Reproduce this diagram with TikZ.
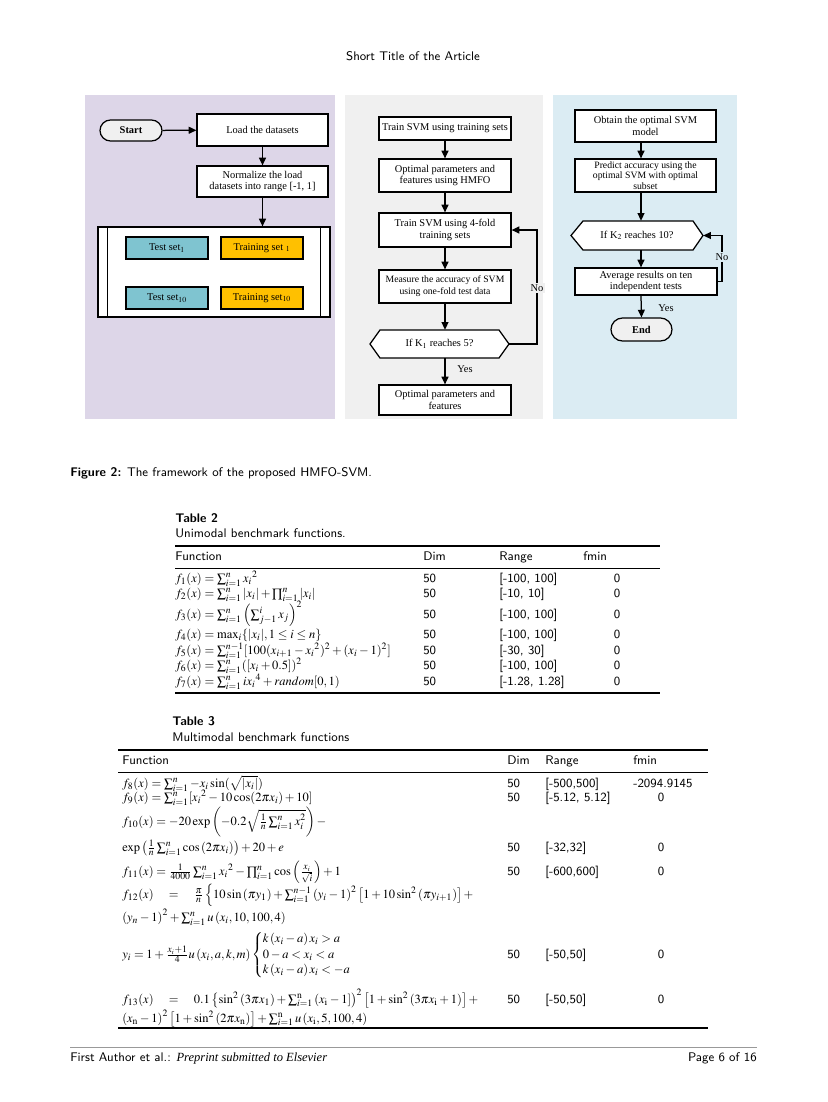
\documentclass[tikz,border=0pt]{standalone}
\usepackage{mathptmx}
\usepackage{fontspec}
\setmainfont{Liberation Serif}
\usetikzlibrary{arrows.meta}
\newcommand{\pxu}{0.72pt}
\newcommand{\fcfont}{\fontsize{7.5}{8.5}\selectfont\rmfamily}
\newcommand{\tbfont}{\fontsize{9}{11}\selectfont\sffamily}
\definecolor{pone}{RGB}{221,214,232}
\definecolor{ptwo}{RGB}{240,240,240}
\definecolor{pthree}{RGB}{219,236,243}
\definecolor{tcol}{RGB}{127,196,208}
\definecolor{rcol}{RGB}{255,192,0}
\definecolor{pillc}{RGB}{240,240,240}
\begin{document}
\begin{tikzpicture}[x=0.72pt,y=-0.72pt,
  fcbox/.style n args={2}{draw, line width=0.9pt, fill=white, inner sep=1pt, align=center, font=\fcfont, minimum width=#1*\pxu, minimum height=#2*\pxu},
  pill/.style n args={2}{draw, line width=0.9pt, fill=pillc, inner sep=1pt, font=\fcfont\bfseries, minimum width=#1*\pxu, minimum height=#2*\pxu, rounded corners=#2*0.36pt},
  hexn/.style n args={2}{inner sep=0pt, font=\fcfont, minimum width=#1*\pxu, minimum height=#2*\pxu},
  lbl/.style={inner sep=1pt, font=\fcfont},
  arr/.style={-{Triangle[length=5.5pt,width=5pt]}, line width=0.9pt},
  tc/.style={anchor=mid west, inner sep=0pt, font=\tbfont},
  tcc/.style={anchor=mid, inner sep=0pt, font=\tbfont},
  thickrule/.style={line width=0.9pt},
  thinrule/.style={line width=0.5pt}]
\useasboundingbox (0,0) rectangle (827,1102);
\fill[white] (0,0) rectangle (827,1102);

% header
\node[tcc] (hdr) at (413,57) {Short Title of the Article};

% panels
\fill[pone] (85,95) rectangle (335,419);
\fill[ptwo] (345,95) rectangle (543,419);
\fill[pthree] (553,95) rectangle (737,419);

% ---------- panel 1
\node[pill={62}{21}] (start) at (131,130.5) {Start};
\node[fcbox={131}{32}] (load) at (262.5,130) {Load the datasets};
\node[fcbox={131}{31}] (norm) at (262.5,181.5) {Normalize the load\\datasets into range [-1, 1]};
\node[draw, line width=0.9pt, fill=white, inner sep=0pt, minimum width=232*\pxu, minimum height=90*\pxu] (cont) at (214,272) {};
\draw[line width=0.9pt] ([xshift=10*\pxu]cont.north west) -- ([xshift=10*\pxu]cont.south west);
\draw[line width=0.9pt] ([xshift=-10*\pxu]cont.north east) -- ([xshift=-10*\pxu]cont.south east);
\node[fcbox={82}{22}, fill=tcol] (ts1) at (167,248) {Test set$_{1}$};
\node[fcbox={82}{22}, fill=rcol] (tr1) at (262,248) {Training set $_{1}$};
\node[fcbox={82}{22}, fill=tcol] (ts10) at (167,298) {Test set$_{10}$};
\node[fcbox={82}{22}, fill=rcol] (tr10) at (262,298) {Training set$_{10}$};
\draw[arr] (start) -- (load);
\draw[arr] (load) -- (norm);
\draw[arr] (norm.south) -- (norm.south |- cont.north);

% ---------- panel 2
\node[fcbox={132}{23}] (svm1) at (445,128.5) {Train SVM using training sets};
\node[fcbox={132}{33}] (hmfo) at (445,175.5) {Optimal parameters and\\features using HMFO};
\node[fcbox={132}{34}] (four) at (445,230) {Train SVM using 4-fold\\training sets};
\node[fcbox={132}{33}, font=\fontsize{7}{8.5}\selectfont\rmfamily] (meas) at (445,286.5) {Measure the accuracy of SVM\\using one-fold test data};
\draw[line width=0.9pt, fill=white] (370,344) -- (380,330) -- (499,330) -- (509,344) -- (499,358) -- (380,358) -- cycle;
\node[hexn={139}{28}] (kone) at (439.5,344) {If K$_{1}$ reaches 5?};
\node[fcbox={132}{30}] (optf) at (445,400) {Optimal parameters and\\features};
\draw[arr] (svm1) -- (hmfo);
\draw[arr] (hmfo) -- (four);
\draw[arr] (four) -- (meas);
\draw[arr] (meas.south) -- (meas.south |- kone.north);
\draw[arr] (optf.north |- kone.south) -- (optf.north);
\coordinate (nob) at (537,344);
\draw[arr] (kone.east) -- (nob) |- (four.east);
\node[lbl, fill=ptwo] (no1) at (537,288) {No};
\node[lbl] (yes1) at (465,369) {Yes};

% ---------- panel 3
\coordinate (ax3) at (641,0);
\node[fcbox={141}{32}] (obt) at (645.5,126) {Obtain the optimal SVM\\model};
\node[fcbox={141}{33}, font=\fontsize{7}{7.6}\selectfont\rmfamily] (pred) at (645.5,175.5) {Predict accuracy using the\\optimal SVM with optimal\\subset};
\draw[line width=0.9pt, fill=white] (571,235.5) -- (583,221) -- (693,221) -- (703,235.5) -- (693,250) -- (583,250) -- cycle;
\node[hexn={132}{29}] (ktwo) at (637,235.5) {If K$_{2}$ reaches 10?};
\node[fcbox={142}{27}] (avg) at (646,281.5) {Average results on ten\\independent tests};
\node[pill={61}{23}] (fin) at (641.5,329.5) {End};
\draw[arr] (obt.south -| ax3) -- (pred.north -| ax3);
\draw[arr] (pred.south -| ax3) -- (ktwo.north -| ax3);
\draw[arr] (ktwo.south -| ax3) -- (avg.north -| ax3);
\draw[arr] (avg.south -| ax3) -- (fin.north);
\coordinate (no3) at (722,281.5);
\draw[arr] (avg.east) -- (no3) |- (ktwo.east);
\node[lbl, fill=pthree] (no2) at (722,257) {No};
\node[lbl] (yes2) at (666,308) {Yes};

% caption
\node[tc] (cap) at (70,473) {\textbf{Figure 2:} The framework of the proposed HMFO-SVM.};

% ---------- Table 2
\node[tc, font=\tbfont\bfseries] (t2t) at (175,519) {Table 2};
\node[tc] (t2c) at (175,534) {Unimodal benchmark functions.};
\draw[thickrule] (175,546) -- (660,546);
\node[tc] (h2a) at (175,557) {Function};
\node[tc] (h2b) at (423,557) {Dim};
\node[tc] (h2c) at (499,557) {Range};
\node[tc] (h2d) at (583,557) {fmin};
\draw[thinrule] (175,568) -- (660,568);
\node[tc] (a1) at (175,579) {$f_1(x)=\sum_{i=1}^{n}{x_i}^2$};
\node[tc] (a2) at (175,594) {$f_2(x)=\sum_{i=1}^{n}|x_i|+\prod_{i=1}^{n}|x_i|$};
\node[tc] (a3) at (175,615) {$f_3(x)=\sum_{i=1}^{n}\left(\sum_{j-1}^{i}x_j\right)^2$};
\node[tc] (a4) at (175,635) {$f_4(x)=\max_i\{|x_i|,1\le i\le n\}$};
\node[tc] (a5) at (175,651) {$f_5(x)=\sum_{i=1}^{n-1}[100(x_{i+1}-{x_i}^2)^2+(x_i-1)^2]$};
\node[tc] (a6) at (175,666) {$f_6(x)=\sum_{i=1}^{n}([x_i+0.5])^2$};
\node[tc] (a7) at (175,682) {$f_7(x)=\sum_{i=1}^{n}i{x_i}^4+random[0,1)$};
\foreach \yy/\rr [count=\k] in {579/{[-100, 100]},594/{[-10, 10]},615/{[-100, 100]},635/{[-100, 100]},651/{[-30, 30]},666/{[-100, 100]},682/{[-1.28, 1.28]}}{
  \node[tc] (d\k) at (423,\yy) {50};
  \node[tc] (r\k) at (499,\yy) {\rr};
  \node[tcc] (m\k) at (617,\yy) {0};
}
\draw[thickrule] (175,693) -- (660,693);

% ---------- Table 3
\node[tc, font=\tbfont\bfseries] (t3t) at (172,722) {Table 3};
\node[tc] (t3c) at (172,738) {Multimodal benchmark functions};
\draw[thickrule] (118,750) -- (708,750);
\node[tc] (h3a) at (122,761) {Function};
\node[tc] (h3b) at (507,761) {Dim};
\node[tc] (h3c) at (545,761) {Range};
\node[tc] (h3d) at (633,761) {fmin};
\draw[thinrule] (118,772) -- (708,772);
\node[tc] (b8) at (122,784) {$f_8(x)=\sum_{i=1}^{n}-x_i\sin(\sqrt{|x_i|})$};
\node[tc] (b9) at (122,798) {$f_9(x)=\sum_{i=1}^{n}[{x_i}^2-10\cos(2\pi x_i)+10]$};
\node[tc] (b10a) at (122,822) {$f_{10}(x)=-20\exp\left(-0.2\sqrt{\frac{1}{n}\sum_{i=1}^{n}x_i^2}\right)-$};
\node[tc] (b10b) at (122,848) {$\exp\left(\frac{1}{n}\sum_{i=1}^{n}\cos\left(2\pi x_i\right)\right)+20+e$};
\node[tc] (b11) at (122,872) {$f_{11}(x)=\frac{1}{4000}\sum_{i=1}^{n}{x_i}^2-\prod_{i=1}^{n}\cos\left(\frac{x_i}{\sqrt{i}}\right)+1$};
\node[tc] (b12a) at (122,895) {$f_{12}(x)\quad=\quad\frac{\pi}{n}\left\{10\sin\left(\pi y_1\right)+\sum_{i=1}^{n-1}\left(y_i-1\right)^2\left[1+10\sin^2\left(\pi y_{i+1}\right)\right]+\right.$};
\node[tc] (b12b) at (122,918) {$\left(y_n-1\right)^2+\sum_{i=1}^{n}u\left(x_i,10,100,4\right)$};
\node[tc] (byi) at (122,955) {$y_i=1+\frac{x_i+1}{4}u\left(x_i,a,k,m\right)\left\{\begin{array}{@{}l@{}}k\left(x_i-a\right)x_i>a\\0-a<x_i<a\\k\left(x_i-a\right)x_i<-a\end{array}\right.$};
\node[tc] (b13a) at (122,1000) {$f_{13}(x)\quad=\quad0.1\left\{\sin^2\left(3\pi x_1\right)+\sum_{i=1}^{\mathrm{n}}\left(x_{\mathrm{i}}-1\right]\right)^2\left[1+\sin^2\left(3\pi x_{\mathrm{i}}+1\right)\right]+$};
\node[tc] (b13b) at (122,1019) {$\left(x_{\mathrm{n}}-1\right)^2\left[1+\sin^2\left(2\pi x_{\mathrm{n}}\right)\right]+\sum_{i=1}^{\mathrm{n}}u\left(x_{\mathrm{i}},5,100,4\right)$};
\node[tc] (e1) at (507,784) {50};
\node[tc] (g1) at (545,784) {[-500,500]};
\node[tc] (k1) at (633,784) {-2094.9145};
\foreach \yy/\rr [count=\k from 2] in {798/{[-5.12, 5.12]},848/{[-32,32]},872/{[-600,600]},955/{[-50,50]},1000/{[-50,50]}}{
  \node[tc] (e\k) at (507,\yy) {50};
  \node[tc] (g\k) at (545,\yy) {\rr};
  \node[tcc] (k\k) at (661,\yy) {0};
}
\draw[thickrule] (118,1028) -- (708,1028);

% footer
\draw[line width=0.5pt, black!40] (70,1047) -- (757,1047);
\node[tc] (fl) at (70,1058) {First Author et al.: {\rmfamily\itshape Preprint submitted to Elsevier}};
\node[tc, anchor=mid east] (fr) at (757,1058) {Page 6 of 16};
\end{tikzpicture}
\end{document}
